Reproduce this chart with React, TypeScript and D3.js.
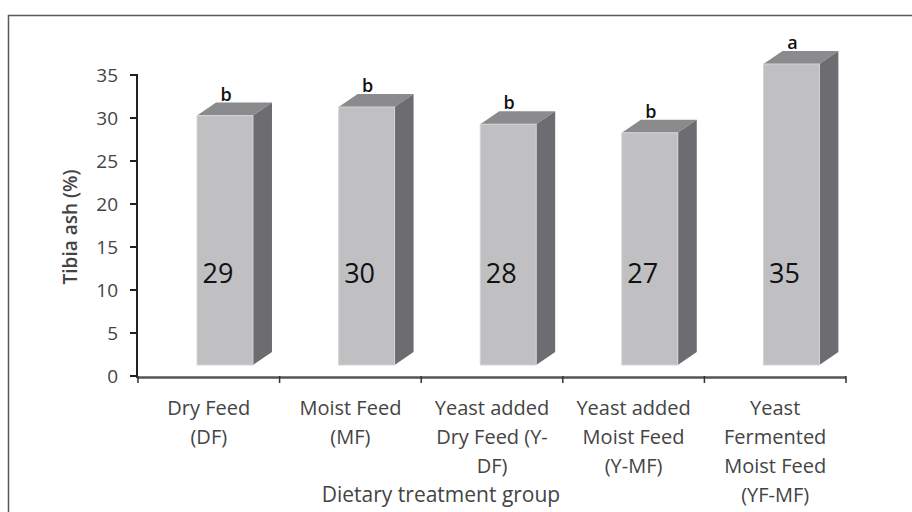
import * as d3 from "d3";

const W = 912;
const H = 512;
const FONT = "'Open Sans', 'DejaVu Sans', sans-serif";

const categories = [
  ["Dry Feed", "(DF)"],
  ["Moist Feed", "(MF)"],
  ["Yeast added", "Dry Feed (Y-", "DF)"],
  ["Yeast added", "Moist Feed", "(Y-MF)"],
  ["Yeast", "Fermented", "Moist Feed", "(YF-MF)"],
];
const values = [29, 30, 28, 27, 35];
const letters = ["b", "b", "b", "b", "a"];
const yTicks = [0, 5, 10, 15, 20, 25, 30, 35];

// plot frame
const X0 = 138;
const X1 = 846;
const Y0 = 376;
const Y35 = 75;
const DEPTH_X = 19;
const DEPTH_Y = 13;
const LIFT = 11; // 3D floor sits a bit above the axis line

const FRONT = "#c0c0c3";
const TOP = "#8b8b8e";
const SIDE = "#6d6d71";

export default function App() {
  const x = d3
    .scaleBand<number>()
    .domain(d3.range(values.length))
    .range([X0, X1])
    .paddingInner(0)
    .paddingOuter(0);
  const y = d3.scaleLinear().domain([0, 35]).range([Y0, Y35]);
  const bw = x.bandwidth();

  return (
    <svg
      width={W}
      height={H}
      style={{ position: "absolute", left: 0, top: 0, background: "#fff" }}
      fontFamily={FONT}
    >
      {/* frame */}
      <path d={`M8.5,${H}V15.5H${W}`} fill="none" stroke="#5a5a5a" strokeWidth={1.5} />

      {/* bars */}
      {values.map((v, i) => {
        const fx = (x(i) ?? 0) + bw * 0.417;
        const fw = bw * 0.395;
        const top = y(v) - LIFT;
        const bot = y(0) - LIFT;
        const cx = fx + fw / 2;
        return (
          <g key={i}>
            <path
              d={`M${fx},${top}L${fx + DEPTH_X},${top - DEPTH_Y}L${fx + fw + DEPTH_X},${top - DEPTH_Y}L${fx + fw},${top}Z`}
              fill={TOP}
            />
            <path
              d={`M${fx + fw},${top}L${fx + fw + DEPTH_X},${top - DEPTH_Y}L${fx + fw + DEPTH_X},${bot - DEPTH_Y}L${fx + fw},${bot}Z`}
              fill={SIDE}
            />
            <rect x={fx} y={top} width={fw} height={bot - top} fill={FRONT} stroke="#d4d4d6" strokeWidth={1} />
            <text
              x={cx - 7}
              y={y(12)}
              fontSize={27}
              textAnchor="middle"
              dominantBaseline="central"
              fill="#111"
            >
              {v}
            </text>
            <text
              x={cx + 1}
              y={top - DEPTH_Y - 2}
              fontSize={18}
              fontWeight={600}
              textAnchor="middle"
              fill="#111"
            >
              {letters[i]}
            </text>
          </g>
        );
      })}

      {/* y axis */}
      <line x1={X0 - 1} y1={Y35} x2={X0 - 1} y2={Y0 + 2} stroke="#222" strokeWidth={2} />
      {yTicks.map((t) => (
        <g key={t} transform={`translate(0,${y(t)})`}>
          <line x1={X0 - 8} x2={X0} stroke="#222" strokeWidth={2} />
          <text x={118} fontSize={19} textAnchor="end" dominantBaseline="central" fill="#444">
            {t}
          </text>
        </g>
      ))}
      <text
        transform={`translate(70,227) rotate(-90)`}
        fontSize={19}
        textAnchor="middle"
        dominantBaseline="central"
        fill="#444"
        fontWeight={600}
      >
        Tibia ash (%)
      </text>

      {/* x axis */}
      <line x1={X0 - 1} y1={Y0 + 1.5} x2={X1} y2={Y0 + 1.5} stroke="#555" strokeWidth={2.5} />
      {d3.range(values.length + 1).map((i) => {
        const tx = i < values.length ? (x(i) ?? 0) : X1;
        return <line key={i} x1={tx} x2={tx} y1={Y0} y2={Y0 + 7} stroke="#333" strokeWidth={1.5} />;
      })}
      {categories.map((lines, i) => (
        <text
          key={i}
          x={(x(i) ?? 0) + bw / 2}
          fontSize={20}
          textAnchor="middle"
          fill="#444"
        >
          {lines.map((l, j) => (
            <tspan key={j} x={(x(i) ?? 0) + bw / 2} y={415 + j * 29}>
              {l}
            </tspan>
          ))}
        </text>
      ))}
      <text x={441} y={502} fontSize={21} textAnchor="middle" fill="#444">
        Dietary treatment group
      </text>
    </svg>
  );
}
